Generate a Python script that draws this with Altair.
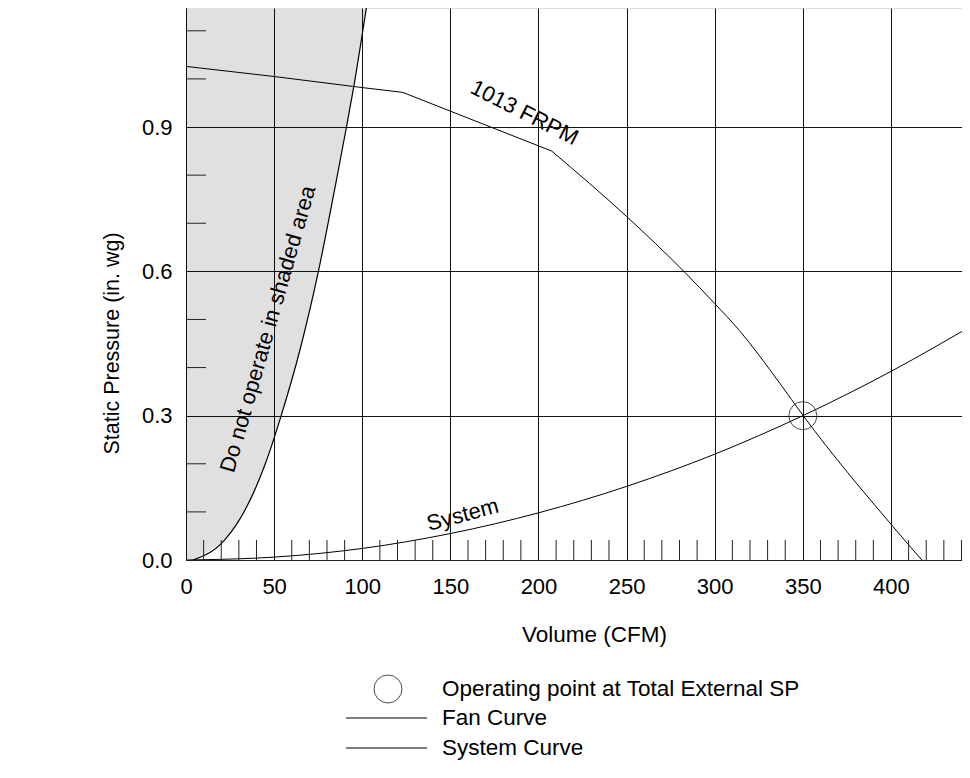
import altair as alt
import pandas as pd

# ---- data ----
fan_cfm = [0, 50, 100, 123, 150, 207.5, 250, 283, 300, 314, 337, 350, 401, 417.5]
fan_sp = [1.026, 1.005, 0.982, 0.972, 0.933, 0.850, 0.714, 0.598, 0.533, 0.477, 0.367, 0.301, 0.07, 0.0]

sys_cfm = [0, 50, 100, 150, 200, 250, 300, 350, 400, 450]
sys_sp = [0.0, 0.006, 0.024, 0.055, 0.098, 0.153, 0.22, 0.30, 0.392, 0.496]

limit_sp = [0.0, 0.042, 0.11, 0.20, 0.30, 0.436, 0.598, 0.783, 0.899, 0.986, 1.163, 1.20]
limit_cfm = [4, 22, 34.4, 45, 54, 64.6, 75, 85, 91, 95.3, 103, 104.6]

op_cfm = [350]
op_sp = [0.30]

x_ticks = [0, 50, 100, 150, 200, 250, 300, 350, 400, 450]
y_ticks = [0.0, 0.3, 0.6, 0.9]
minor_x = [v for v in range(10, 450, 10) if v % 50 != 0]
minor_y = [0.1, 0.2, 0.4, 0.5, 0.7, 0.8, 1.0, 1.1]

ann_text = ["1013 FRPM", "System", "Do not operate in shaded area"]
ann_cfm = [192, 157, 46.5]
ann_sp = [0.93, 0.094, 0.480]
ann_angle = [27, 345, 286]

legend_labels = ["Operating point at Total External SP", "Fan Curve", "System Curve"]

FONT = "Liberation Sans"
W, H = 776, 552
X_MAX = 440.3
Y_MAX = 1.1474

xs = alt.Scale(domain=[0, X_MAX], nice=False, zero=False)
ys = alt.Scale(domain=[0, Y_MAX], nice=False, zero=False)

X = alt.X("cfm:Q", scale=xs, axis=alt.Axis(
    values=x_ticks, title="Volume (CFM)", grid=True, gridColor="#111", gridWidth=1,
    ticks=False, labelPadding=16, labelFontSize=22, labelFont=FONT, labelColor="black",
    titleFontSize=22.5, titleFont=FONT, titleFontWeight="normal", titleColor="black",
    titleX=408, titleY=74, titleBaseline="middle", titleAlign="center",
    domainColor="#222", zindex=1, labelFlush=False, labelOverlap=False))
Y = alt.Y("sp:Q", scale=ys, axis=alt.Axis(
    values=y_ticks, format=".1f", title="Static Pressure (in. wg)", grid=True,
    gridColor="#111", gridWidth=1, ticks=False, labelPadding=14, labelFontSize=22,
    labelFont=FONT, labelColor="black", titleFontSize=21.5, titleFont=FONT,
    titleFontWeight="normal", titleColor="black", titleX=-74, titleY=335,
    titleBaseline="middle", titleAlign="center", domainColor="#111", zindex=1,
    labelFlush=False, labelOverlap=False))

limit_df = pd.DataFrame({"cfm": limit_cfm, "sp": limit_sp})
fan_df = pd.DataFrame({"cfm": fan_cfm, "sp": fan_sp})
k = fan_cfm.index(207.5)
fan_a = fan_df.iloc[: k + 1]
fan_b = fan_df.iloc[k:]
sys_df = pd.DataFrame({"cfm": sys_cfm, "sp": sys_sp})
op_df = pd.DataFrame({"cfm": op_cfm, "sp": op_sp})
mx_df = pd.DataFrame({"cfm": minor_x})
my_df = pd.DataFrame({"sp": minor_y})

shade = alt.Chart(limit_df).mark_area(orient="horizontal", color="#e0e0e0", clip=True,
                                      interpolate="monotone").encode(x=X, y=Y)
limit_line = alt.Chart(limit_df).mark_line(color="black", strokeWidth=1.2, clip=True,
                                           interpolate="monotone").encode(
    x=X, y=Y, order="sp:Q")
fan1 = alt.Chart(fan_a).mark_line(color="black", strokeWidth=1, clip=True).encode(x=X, y=Y)
fan2 = alt.Chart(fan_b).mark_line(color="black", strokeWidth=1, clip=True,
                                  interpolate="monotone").encode(x=X, y=Y)
system = alt.Chart(sys_df).mark_line(color="black", strokeWidth=1, clip=True,
                                     interpolate="monotone").encode(x=X, y=Y)
op = alt.Chart(op_df).mark_point(shape="circle", size=784, color="black", strokeWidth=1,
                                 filled=False).encode(x=X, y=Y)

tick_x = alt.Chart(mx_df).mark_rule(color="#222", strokeWidth=1, clip=True).encode(
    x=X, y=alt.value(H), y2=alt.value(H - 20))
tick_y = alt.Chart(my_df).mark_rule(color="#222", strokeWidth=1, clip=True).encode(
    y=Y, x=alt.value(0), x2=alt.value(20))

anns = []
for t, c, s, a in zip(ann_text, ann_cfm, ann_sp, ann_angle):
    d = pd.DataFrame({"cfm": [c], "sp": [s], "label": [t]})
    anns.append(alt.Chart(d).mark_text(angle=a, fontSize=22, font=FONT, color="black",
                                       align="center", baseline="middle").encode(
        x=X, y=Y, text="label:N"))

one = pd.DataFrame({"k": [0]})
leg_circle = alt.Chart(one).mark_point(shape="circle", size=784, color="black",
                                       strokeWidth=1, filled=False).encode(
    x=alt.value(202), y=alt.value(681))
leg_lines = [
    alt.Chart(one).mark_rule(color="black", strokeWidth=1).encode(
        x=alt.value(160), x2=alt.value(241), y=alt.value(yy))
    for yy in (710, 740)
]
leg_texts = [
    alt.Chart(pd.DataFrame({"label": [lab]})).mark_text(
        fontSize=22.5, font=FONT, color="black", align="left", baseline="middle").encode(
        x=alt.value(256), y=alt.value(yy), text="label:N")
    for lab, yy in zip(legend_labels, (681, 710, 740))
]

chart = alt.layer(
    shade, limit_line, fan1, fan2, system, op, tick_x, tick_y, *anns,
    leg_circle, *leg_lines, *leg_texts
).properties(
    width=W, height=H,
    autosize=alt.AutoSizeParams(type="none"),
    padding={"left": 178, "top": 0, "right": 0, "bottom": 205},
).configure_view(stroke=None).configure(background="white")

chart.save("out.html", embed_options={"renderer": "svg", "actions": False})
